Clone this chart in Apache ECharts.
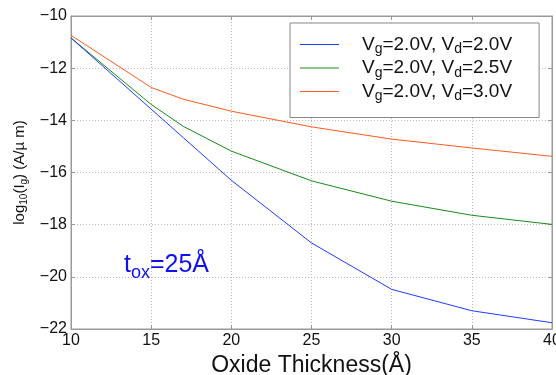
<!DOCTYPE html>
<html>
<head>
<meta charset="utf-8">
<script src="https://cdn.jsdelivr.net/npm/echarts@6/dist/echarts.min.js"></script>
<style>
  html, body { margin: 0; padding: 0; background: #fff; }
  #chart { width: 556px; height: 375px; }
</style>
</head>
<body>
<div id="chart"></div>
<script>
// Oxide thickness (Å) at which gate leakage was evaluated
const thickness = [10, 15, 17, 20, 25, 30, 35, 40];

// log10 of gate current (A/µm) for each drain bias, Vg = 2.0 V
const vd20 = [-10.84, -13.57, -14.66, -16.30, -18.70, -20.48, -21.30, -21.76];
const vd25 = [-10.84, -13.39, -14.23, -15.18, -16.32, -17.10, -17.64, -17.99];
const vd30 = [-10.74, -12.74, -13.19, -13.65, -14.25, -14.72, -15.06, -15.38];

const seriesNames = ['Vd20', 'Vd25', 'Vd30'];
const seriesColors = ['#1f3cff', '#1a8a1a', '#ff5a1f'];
const legendLabels = {
  Vd20: 'V{sub|g}=2.0V, V{sub|d}=2.0V',
  Vd25: 'V{sub|g}=2.0V, V{sub|d}=2.5V',
  Vd30: 'V{sub|g}=2.0V, V{sub|d}=3.0V'
};

const FONT = 'Liberation Sans, Arial, Helvetica, sans-serif';
const pairs = ys => thickness.map((x, i) => [x, ys[i]]);
const minus = v => String(v).replace('-', '\u2212');

const chart = echarts.init(document.getElementById('chart'), null, { renderer: 'canvas' });

chart.setOption({
  animation: false,
  backgroundColor: '#fff',
  textStyle: { fontFamily: FONT },
  grid: {
    left: 71, right: 4, top: 16, bottom: 46,
    outerBoundsMode: 'none',
    show: true, borderColor: '#999', borderWidth: 1
  },
  title: {
    text: 't{sub|ox}=25Å',
    left: 119, top: 243,
    textStyle: {
      color: '#1010f0', fontSize: 25, fontFamily: FONT, fontWeight: 'normal',
      rich: {
        sub: { fontSize: 18, color: '#1010f0', fontFamily: FONT, padding: [16, 0, 0, 0] }
      }
    }
  },
  legend: {
    left: 290, top: 23,
    orient: 'vertical',
    padding: [12, 27, 14, 10],
    borderColor: '#888', borderWidth: 1,
    backgroundColor: '#fff',
    icon: 'rect',
    itemWidth: 39, itemHeight: 1, itemGap: 2,
    data: seriesNames,
    formatter: name => legendLabels[name],
    textStyle: {
      fontSize: 19, color: '#111', fontFamily: FONT,
      padding: [0, 0, 0, 18],
      rich: {
        sub: { fontSize: 14, color: '#111', fontFamily: FONT, padding: [10, 0, 0, 0] }
      }
    }
  },
  xAxis: [
    {
      type: 'value', min: 10, max: 40, interval: 5,
      name: 'Oxide Thickness(Å)', nameLocation: 'middle', nameGap: 19,
      nameTextStyle: { fontSize: 23, color: '#111', fontFamily: FONT },
      axisLine: { show: true, lineStyle: { color: '#999' } },
      axisTick: { show: true, inside: true, length: 4, lineStyle: { color: '#999' } },
      axisLabel: { fontSize: 16, color: '#111', margin: 4, fontFamily: FONT },
      splitLine: { show: true, lineStyle: { color: '#bbb', type: [1, 2], width: 1 } }
    },
    {
      type: 'value', min: 10, max: 40, interval: 5, position: 'top',
      axisLine: { show: true, lineStyle: { color: '#999' } },
      axisTick: { show: true, inside: true, length: 4, lineStyle: { color: '#999' } },
      axisLabel: { show: false },
      splitLine: { show: false }
    }
  ],
  yAxis: [
    {
      type: 'value', min: -22, max: -10, interval: 2,
      name: 'log{sub|10}(I{sub|g}) (A/µ m)', nameLocation: 'middle', nameGap: 26,
      nameRotate: 90,
      nameTextStyle: {
        fontSize: 15, color: '#111', fontFamily: FONT,
        rich: { sub: { fontSize: 10, color: '#111', fontFamily: FONT, padding: [8, 0, 0, 0] } }
      },
      axisLine: { show: true, lineStyle: { color: '#999' } },
      axisTick: { show: true, inside: true, length: 4, lineStyle: { color: '#999' } },
      axisLabel: { fontSize: 16, color: '#111', margin: 4, fontFamily: FONT, formatter: minus },
      splitLine: { show: true, lineStyle: { color: '#bbb', type: [1, 2], width: 1 } }
    },
    {
      type: 'value', min: -22, max: -10, interval: 2, position: 'right',
      axisLine: { show: true, lineStyle: { color: '#999' } },
      axisTick: { show: true, inside: true, length: 4, lineStyle: { color: '#999' } },
      axisLabel: { show: false },
      splitLine: { show: false }
    }
  ],
  series: [vd20, vd25, vd30].map((ys, i) => ({
    name: seriesNames[i],
    type: 'line',
    data: pairs(ys),
    symbol: 'none',
    lineStyle: { color: seriesColors[i], width: 1 },
    itemStyle: { color: seriesColors[i] },
    z: 3 - i
  }))
});
</script>
</body>
</html>
